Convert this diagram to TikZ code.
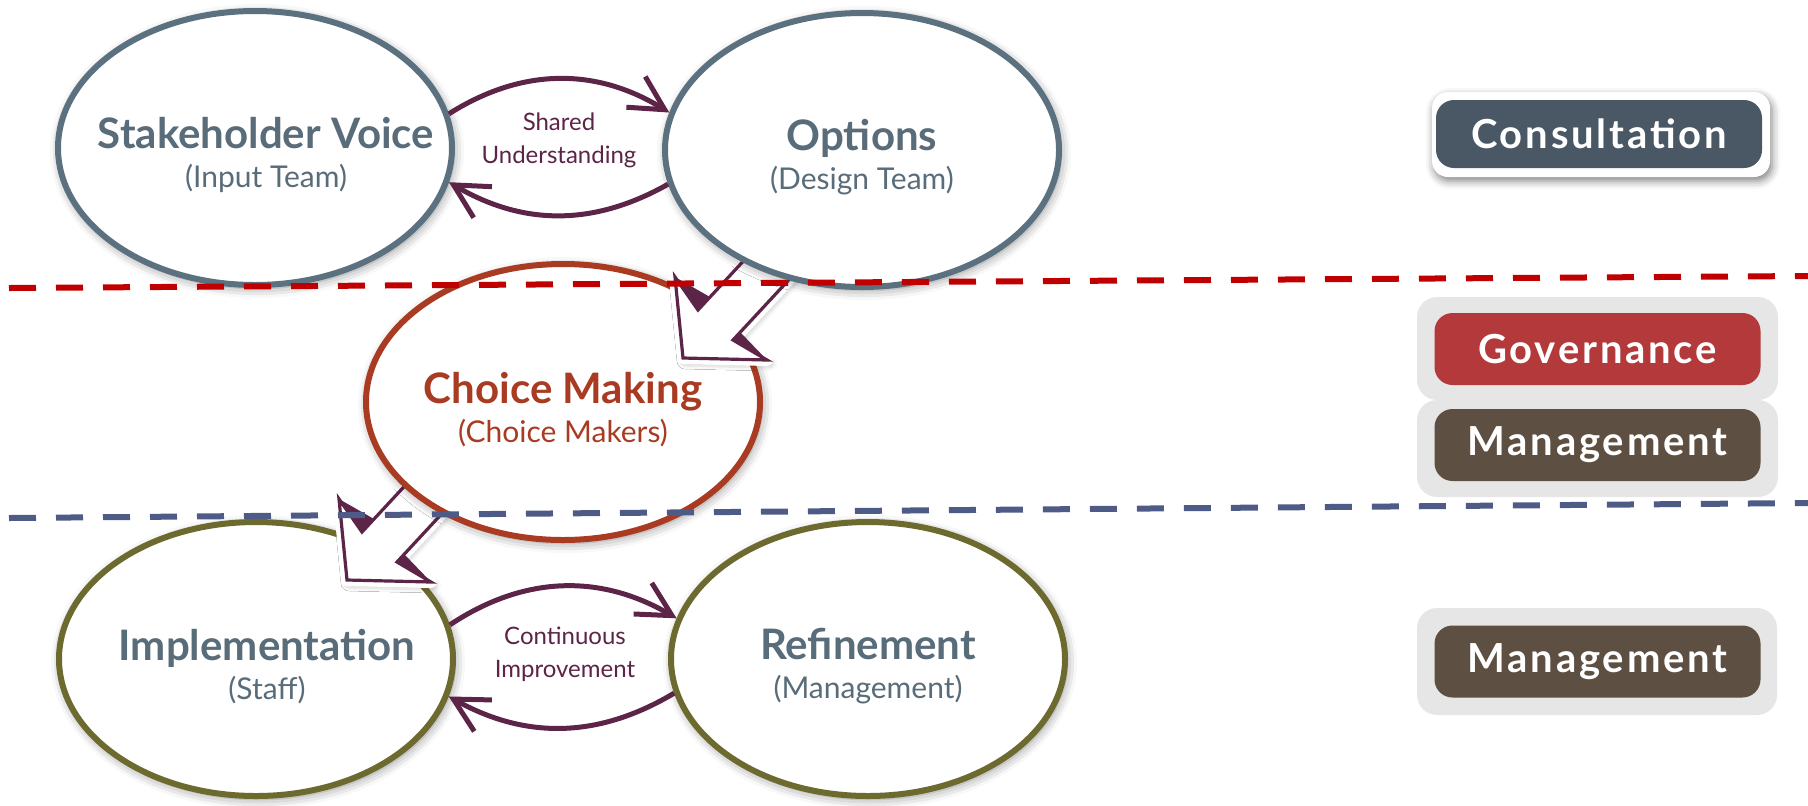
\documentclass[tikz,border=0pt]{standalone}
\usepackage{fontspec}
\setmainfont{Lato}
\newfontfamily\tagfont{Lato}[LetterSpace=7]
\usetikzlibrary{arrows.meta,shapes.geometric,shadows.blur}

\definecolor{slate}{HTML}{5C7180}
\definecolor{slatetext}{HTML}{596C79}
\definecolor{rust}{HTML}{A83B22}
\definecolor{olive}{HTML}{6C6A2E}
\definecolor{plum}{HTML}{5C2447}
\definecolor{dashred}{HTML}{C00000}
\definecolor{dashblue}{HTML}{4E5B86}
\definecolor{consultbg}{HTML}{4A5866}
\definecolor{govbg}{HTML}{B3393B}
\definecolor{mgmtbg}{HTML}{5D4F41}
\definecolor{framegray}{HTML}{E6E6E6}

% title and subtitle of a stage, #1 pushes them to the right
\newcommand{\stagetext}[3][0pt]{%
  \makebox[0pt]{\hspace*{#1}{\fontsize{21}{19.5}\selectfont\bfseries\rule{0pt}{23pt}#2}}\\
  \makebox[0pt]{\hspace*{#1}#3}}

\tikzset{
  stage/.style={ellipse, draw=slate, line width=3pt, fill=white, inner sep=0pt,
    minimum width=197pt, minimum height=137pt, align=center, text=slatetext,
    font=\fontsize{15}{19.5}\selectfont,
    blur shadow={shadow xshift=1pt, shadow yshift=-1.5pt, shadow blur radius=5pt, shadow opacity=45}},
  cyc/.style={draw=plum, line width=2.5pt, -{Straight Barb[length=17pt,width=18pt]}},
  cyclabel/.style={text=plum, align=center, font=\fontsize{12}{16.5}\selectfont},
  tag/.style={rounded corners=9pt, minimum width=163pt, minimum height=36pt, inner sep=0pt,
    text=white, font=\fontsize{20}{22}\tagfont\bfseries},
  level/.style={line width=3pt, dash pattern=on 13.5pt off 10pt},
  bigarrow/.pic={
    \path[fill=white, draw=white, line width=6pt, line join=round,
      blur shadow={shadow xshift=1pt, shadow yshift=-1.5pt, shadow blur radius=4pt, shadow opacity=45}]
      (0,0) -- (-8,81) -- (15,48) -- (117,158) -- (152,128) -- (50,18) -- (84,-2) -- cycle;
    \draw[plum, fill=white, line width=1.6pt, line join=miter]
      (0,0) -- (-8,81) -- (15,48) -- (117,158) -- (152,128) -- (50,18) -- (84,-2) -- cycle;
    \fill[plum] (-8,81) -- (15,48) -- (27,61) -- cycle;
    \fill[plum] (84,-2) -- (50,18) -- (57,26) -- cycle;
  }
}

\begin{document}
\begin{tikzpicture}[x=0.5pt,y=0.5pt]
\useasboundingbox (0,0) rectangle (1808,-805);
% Side tags
\fill[white, rounded corners=8pt,
  blur shadow={shadow xshift=1pt, shadow yshift=-2pt, shadow blur radius=4pt, shadow opacity=50}]
  (1432,-92) rectangle (1770,-177);
\fill[framegray, rounded corners=10pt] (1417,-297) rectangle (1778,-400);
\fill[framegray, rounded corners=10pt] (1417,-400) rectangle (1778,-497);
\fill[framegray, rounded corners=10pt] (1417,-608) rectangle (1777,-715);
\node[tag, fill=consultbg, minimum height=34pt] (consult) at (1599,-134) {Consultation};
\node[tag, fill=govbg] (gov) at (1597.5,-349) {Governance};
\node[tag, fill=mgmtbg] (mgmt) at (1597.5,-445) {Management};
\node[tag, fill=mgmtbg] (mgmtlow) at (1597.5,-661.5) {Management};
% Bottom row
\node[stage, draw=olive] (imp) at (256,-659) {\stagetext[11pt]{Implementation}{(Staff)}};
\node[stage, draw=olive] (rf) at (868,-659) {\stagetext{Refinement}{(Management)}};
\pic at ([shift={(91,79)}]imp.center) {bigarrow};
% Middle
\node[stage, draw=rust, text=rust, minimum height=138pt] (cm) at (563,-402)
  {\stagetext{Choice Making}{(Choice Makers)}};
\pic at ([shift={(120,44)}]cm.center) {bigarrow};
% Top row
\node[stage] (op) at (862,-150) {\stagetext{Options}{(Design Team)}};
\node[stage] (sv) at (255,-148) {\stagetext[11pt]{Stakeholder Voice}{(Input Team)}};
% Cycles
\draw[cyc] (sv.10) to[bend left=32] (op.169);
\draw[cyc] (op.190) to[bend left=30] (sv.350);
\node[cyclabel] (shared) at (559,-140) {Shared\\Understanding};
\draw[cyc] (imp.10) to[bend left=32] (rf.168);
\draw[cyc] (rf.190) to[bend left=30] (imp.349);
\node[cyclabel] (contimp) at (565,-654) {Continuous\\Improvement};
% Level lines
\coordinate (redL) at (9,-288);
\coordinate (redR) at (1808,-276);
\coordinate (blueL) at (9,-518);
\coordinate (blueR) at (1808,-503);
\draw[level, dashred] (redL) -- (redR);
\draw[level, dashblue] (blueL) -- (blueR);
\end{tikzpicture}
\end{document}
